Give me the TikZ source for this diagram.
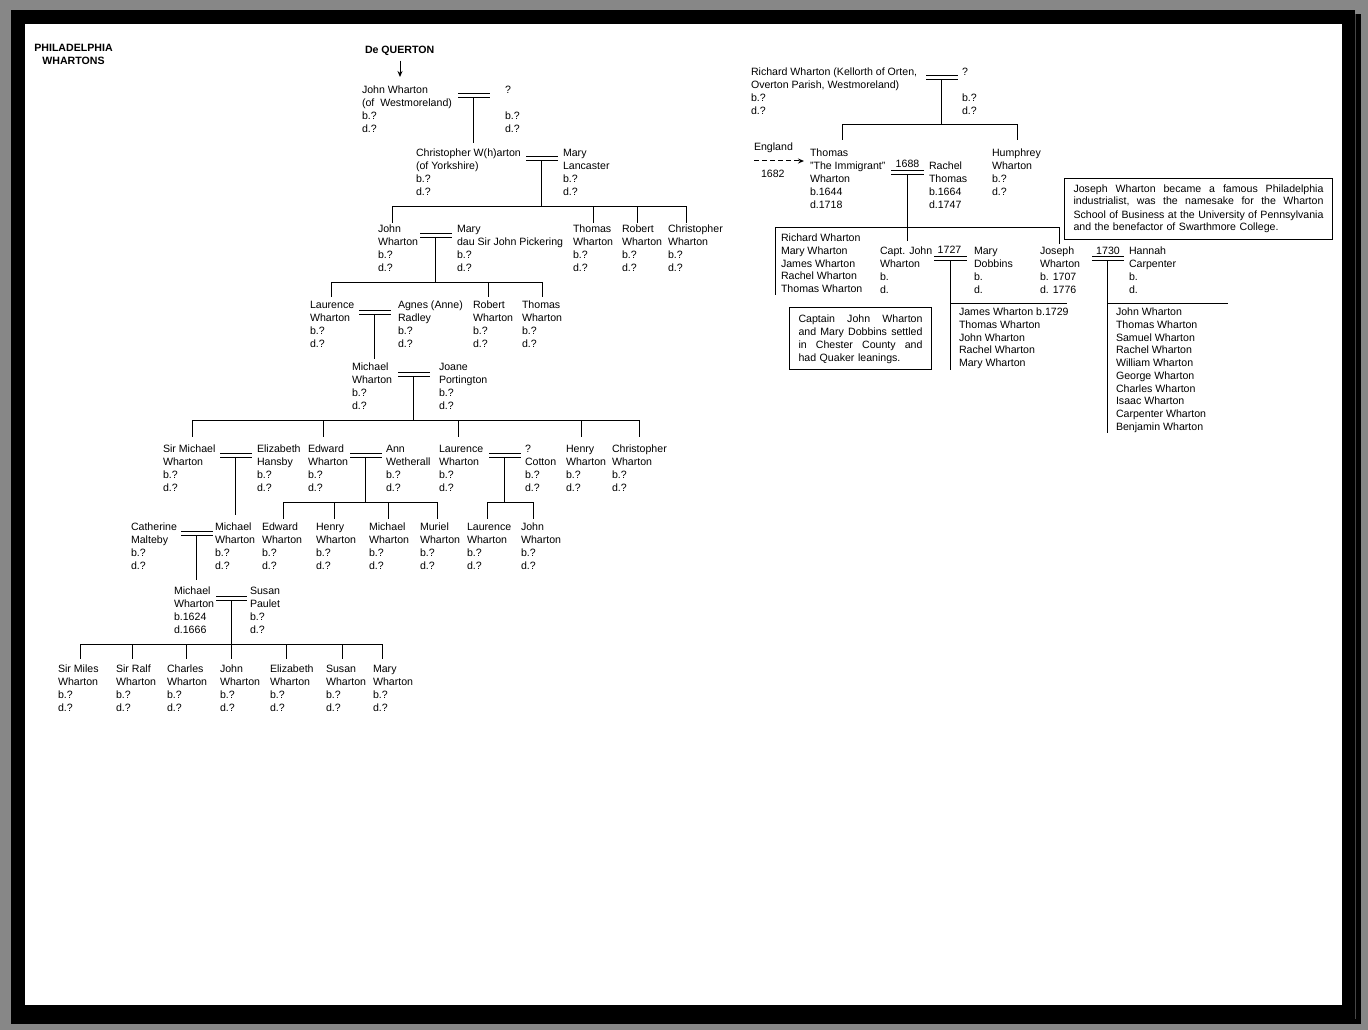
\documentclass[tikz,border=0pt]{standalone}
\usepackage{fontspec}
\setmainfont{Liberation Sans}
\usetikzlibrary{calc,arrows.meta}
\definecolor{framegray}{RGB}{135,135,135}
\definecolor{edgegray}{RGB}{70,70,70}
\newcommand\pfont{\fontsize{10.6pt}{13pt}\selectfont}
\newcommand\lfont{\fontsize{10.6pt}{12.75pt}\selectfont}
\newcommand\tfont{\fontsize{10.6pt}{13pt}\selectfont\bfseries}
\newcommand\stt{\rule{0pt}{9pt}}
\newcommand\pn[4]{\node[pers] (#1) at (#2,-#3+5.5) {\stt #4};}
\newcommand\plist[4]{\node[lst] (#1) at (#2,-#3+5.5) {\stt #4};}
\newcommand\marr[4]{%
  \coordinate (#1a) at (#2,-#4); \coordinate (#1b) at (#3,-#4);
  \coordinate (#1c) at (#2,-#4-4); \coordinate (#1d) at (#3,-#4-4);
  \draw[ln] (#1a) -- (#1b); \draw[ln] (#1c) -- (#1d);
  \coordinate (#1) at ($(#1c)!0.5!(#1d)$);}
\newcommand\vln[4]{\coordinate (#1t) at (#2,-#3); \coordinate (#1e) at (#2,-#4); \draw[ln] (#1t) -- (#1e);}
\newcommand\hln[4]{\coordinate (#1l) at (#2,-#4); \coordinate (#1r) at (#3,-#4); \draw[ln] (#1l) -- (#1r);}
\newcommand\dn[3]{\coordinate (#2) at (0,-#3); \draw[ln] (#1) -- (#1 |- #2);}
\newcommand\jl[2]{\leavevmode\hbox to #1{#2}}
\newcommand\gp{\hfill}
\tikzset{
  pers/.style={anchor=north west, inner sep=0pt, outer sep=0pt, align=left, font=\pfont},
  lst/.style={pers, font=\lfont},
  ttl/.style={inner sep=0pt, outer sep=0pt, align=center, font=\tfont},
  ln/.style={line width=1pt, black, line cap=rect},
  note/.style={draw, line width=1pt, anchor=north west, inner xsep=9pt, inner ysep=0pt, align=left, font=\pfont, text width=#1},
  yr/.style={anchor=base, inner sep=0pt, outer sep=0pt, font=\pfont},
  tip/.style={-{Stealth[length=6pt,width=5pt]}}
}
\begin{document}
\begin{tikzpicture}[x=1pt,y=1pt]
\useasboundingbox (0,0) rectangle (1368,-1030);
% frame
\fill[framegray] (0,0) rectangle (1368,-1030);
\fill[black] (11,-10) rectangle (1355,-1024);
\fill[black] (1355,-14) rectangle (1361,-1024);
\fill[white] (25,-24) rectangle (1342,-1005);
\draw[edgegray, line width=0.8pt] (1355.5,-14) -- (1355.5,-1019);

% titles
\node[ttl, anchor=north] (title) at (73.5,-42.5) {\stt PHILADELPHIA\\WHARTONS};
\node[ttl, anchor=north west] (dq) at (365,-44.5) {\stt De QUERTON};
\coordinate (dqTip) at (400,-77);
\draw[ln, line cap=butt, tip] ($(dq.south -| dqTip)+(0,-5)$) -- (dqTip);

% ---------- left tree ----------
\pn{jw}{362}{90}{John Wharton\\(of~ Westmoreland)\\b.?\\d.?}
\pn{jws}{505}{90}{?\\\mbox{}\\b.?\\d.?}
\marr{ma}{458}{489}{94}
\dn{ma}{maE}{143}

\pn{cw}{416}{153}{Christopher W(h)arton\\(of Yorkshire)\\b.?\\d.?}
\pn{ml}{563}{153}{Mary\\Lancaster\\b.?\\d.?}
\marr{mb}{526}{557}{157}
\hln{bb}{392}{686}{206}
\draw[ln] (mb) -- (mb |- bbl);
\vln{db1}{392}{206}{222}\vln{db2}{593}{206}{222}\vln{db3}{637}{206}{222}\vln{db4}{686}{206}{222}

\pn{jw2}{378}{229}{John\\Wharton\\b.?\\d.?}
\pn{mp}{457}{229}{Mary\\dau Sir John Pickering\\b.?\\d.?}
\pn{tw2}{573}{229}{Thomas\\Wharton\\b.?\\d.?}
\pn{rw2}{622}{229}{Robert\\Wharton\\b.?\\d.?}
\pn{chw2}{668}{229}{Christopher\\Wharton\\b.?\\d.?}
\marr{mc}{420}{451}{233}
\hln{bc}{331}{542}{282}
\draw[ln] (mc) -- (mc |- bcl);
\vln{dc1}{331}{282}{296}\vln{dc2}{488}{282}{296}\vln{dc3}{542}{282}{296}

\pn{lw3}{310}{305}{Laurence\\Wharton\\b.?\\d.?}
\pn{ar}{398}{305}{Agnes (Anne)\\Radley\\b.?\\d.?}
\pn{rw3}{473}{305}{Robert\\Wharton\\b.?\\d.?}
\pn{tw3}{522}{305}{Thomas\\Wharton\\b.?\\d.?}
\marr{md}{359}{390}{310}
\dn{md}{mdE}{358}

\pn{mw4}{352}{367}{Michael\\Wharton\\b.?\\d.?}
\pn{jp}{439}{367}{Joane\\Portington\\b.?\\d.?}
\marr{me}{398}{429}{372}
\hln{be}{192}{639}{420}
\draw[ln] (me) -- (me |- bel);
\vln{de1}{192}{420}{436}\vln{de2}{323}{420}{436}\vln{de3}{458}{420}{436}\vln{de4}{581}{420}{436}\vln{de5}{639}{420}{436}

\pn{smw}{163}{449}{Sir Michael\\Wharton\\b.?\\d.?}
\pn{eh}{257}{449}{Elizabeth\\Hansby\\b.?\\d.?}
\pn{ew5}{308}{449}{Edward\\Wharton\\b.?\\d.?}
\pn{aw}{386}{449}{Ann\\Wetherall\\b.?\\d.?}
\pn{lw5}{439}{449}{Laurence\\Wharton\\b.?\\d.?}
\pn{qc}{525}{449}{?\\Cotton\\b.?\\d.?}
\pn{hw5}{566}{449}{Henry\\Wharton\\b.?\\d.?}
\pn{cw5}{612}{449}{Christopher\\Wharton\\b.?\\d.?}
\marr{mf}{220}{251}{453}
\dn{mf}{mfE}{514}
\marr{mg}{350}{381}{453}
\hln{bg}{283}{437}{502}
\draw[ln] (mg) -- (mg |- bgl);
\vln{dg1}{283}{502}{518}\vln{dg2}{334}{502}{518}\vln{dg3}{388}{502}{518}\vln{dg4}{437}{502}{518}
\marr{mh}{489}{520}{453}
\hln{bh}{487}{533}{502}
\draw[ln] (mh) -- (mh |- bhl);
\vln{dh1}{487}{502}{518}\vln{dh2}{533}{502}{518}

\pn{cm}{131}{527}{Catherine\\Malteby\\b.?\\d.?}
\pn{mw6}{215}{527}{Michael\\Wharton\\b.?\\d.?}
\pn{ew6}{262}{527}{Edward\\Wharton\\b.?\\d.?}
\pn{hw6}{316}{527}{Henry\\Wharton\\b.?\\d.?}
\pn{mw6b}{369}{527}{Michael\\Wharton\\b.?\\d.?}
\pn{muw}{420}{527}{Muriel\\Wharton\\b.?\\d.?}
\pn{lw6}{467}{527}{Laurence\\Wharton\\b.?\\d.?}
\pn{jw6}{521}{527}{John\\Wharton\\b.?\\d.?}
\marr{mi}{181}{212}{531}
\dn{mi}{miE}{579}

\pn{mw7}{174}{591}{Michael\\Wharton\\b.1624\\d.1666}
\pn{sp}{250}{591}{Susan\\Paulet\\b.?\\d.?}
\marr{mj}{216}{246}{596}
\hln{bj}{80}{382}{644}
\draw[ln] (mj) -- (mj |- bjl);
\vln{dj1}{80}{644}{658}\vln{dj2}{132}{644}{658}\vln{dj3}{186}{644}{658}\vln{dj4}{231}{644}{658}
\vln{dj5}{286}{644}{658}\vln{dj6}{342}{644}{658}\vln{dj7}{382}{644}{658}

\pn{smiles}{58}{669}{Sir Miles\\Wharton\\b.?\\d.?}
\pn{sralf}{116}{669}{Sir Ralf\\Wharton\\b.?\\d.?}
\pn{chas}{167}{669}{Charles\\Wharton\\b.?\\d.?}
\pn{jw8}{220}{669}{John\\Wharton\\b.?\\d.?}
\pn{elw}{270}{669}{Elizabeth\\Wharton\\b.?\\d.?}
\pn{suw}{326}{669}{Susan\\Wharton\\b.?\\d.?}
\pn{maw}{373}{669}{Mary\\Wharton\\b.?\\d.?}

% ---------- right tree ----------
\pn{rw}{751}{72}{Richard Wharton (Kellorth of Orten,\\Overton Parish, Westmoreland)\\b.?\\d.?}
\pn{rws}{962}{72}{?\\\mbox{}\\b.?\\d.?}
\marr{mr}{926}{957}{76}
\hln{br}{842}{1017}{125}
\draw[ln] (mr) -- (mr |- brl);
\vln{dr1}{842}{125}{140}\vln{dr2}{1017}{125}{140}

\pn{eng}{754}{147}{England}
\coordinate (dashS) at (754,-161);
\coordinate (dashE) at (804,-161);
\draw[line width=1pt, dash pattern=on 5pt off 3pt, tip] (dashS) -- (dashE);
\pn{y1682}{761}{174}{1682}

\pn{tiw}{810}{153}{Thomas\\"The Immigrant"\\Wharton\\b.1644\\d.1718}
\node[yr] (y1688) at (907.5,-167.5) {1688};
\marr{mt}{891}{923}{170}
\pn{rt}{929}{166}{Rachel\\Thomas\\b.1664\\d.1747}
\pn{hum}{992}{153}{Humphrey\\Wharton\\b.?\\d.?}

\node[note=250pt] (jbox) at (1064,-178) {\noindent\rule{0pt}{13.5pt}\jl{250pt}{Joseph\gp Wharton\gp became\gp a\gp famous\gp Philadelphia}\\
\jl{250pt}{industrialist,\gp was\gp the\gp namesake\gp for\gp the\gp Wharton}\\
\jl{250pt}{School\gp of\gp Business\gp at\gp the\gp University\gp of\gp Pennsylvania}\\
and the benefactor of Swarthmore College.\rule[-8.5pt]{0pt}{8.5pt}};

\hln{bt}{775}{1059}{227}
\dn{mt}{mtE}{240}
\vln{dt1}{775}{227}{294}
\vln{dt2}{1059}{227}{243}

\plist{tkids}{781}{238}{Richard Wharton\\Mary Wharton\\James Wharton\\Rachel Wharton\\Thomas Wharton}
\pn{cjw}{880}{251}{Capt. John\\Wharton\\b.\\d.}
\node[yr] (y1727) at (949.5,-253.5) {1727};
\marr{mk}{934}{966}{256.5}
\pn{md2}{974}{251}{Mary\\Dobbins\\b.\\d.}
\pn{jow}{1040}{251}{Joseph\\Wharton\\b. 1707\\d. 1776}
\node[yr] (y1730) at (1108,-254.5) {1730};
\marr{ml}{1092}{1123}{256.5}
\pn{hc}{1129}{251}{Hannah\\Carpenter\\b.\\d.}

\dn{mk}{mkE}{369}
\dn{ml}{mlE}{432}
\hln{kk}{950}{1066}{303}
\hln{kl}{1107.5}{1227}{303}

\node[note=124pt] (cbox) at (789,-307) {\noindent\rule{0pt}{14.5pt}\jl{124pt}{Captain\gp John\gp Wharton}\\
\jl{124pt}{and\gp Mary\gp Dobbins\gp settled}\\
\jl{124pt}{in\gp Chester\gp County\gp and}\\
had Quaker leanings.\rule[-8.5pt]{0pt}{8.5pt}};

\plist{kkids}{959}{312}{James Wharton b.1729\\Thomas Wharton\\John Wharton\\Rachel Wharton\\Mary Wharton}
\plist{lkids}{1116}{312}{John Wharton\\Thomas Wharton\\Samuel Wharton\\Rachel Wharton\\William Wharton\\George Wharton\\Charles Wharton\\Isaac Wharton\\Carpenter Wharton\\Benjamin Wharton}
\end{tikzpicture}
\end{document}
